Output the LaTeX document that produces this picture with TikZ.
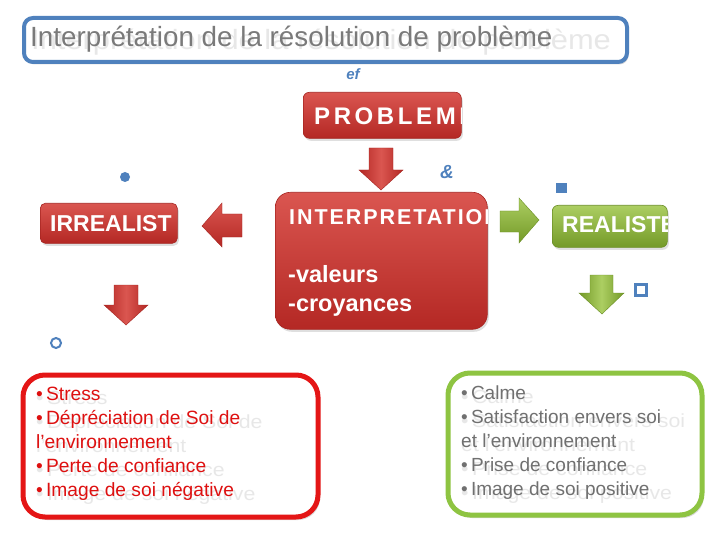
\documentclass[tikz,border=0pt]{standalone}
\usepackage{fontspec}
\usepackage{graphicx}
\setmainfont{Liberation Sans}
\usetikzlibrary{shadows}
\definecolor{blueB}{RGB}{79,129,189}
\definecolor{redT}{RGB}{218,86,80}
\definecolor{redB}{RGB}{180,40,36}
\definecolor{redE}{RGB}{165,36,32}
\definecolor{greenT}{RGB}{172,206,98}
\definecolor{greenB}{RGB}{116,154,40}
\definecolor{greenE}{RGB}{106,142,36}
\definecolor{lred}{RGB}{228,22,22}
\definecolor{lgreen}{RGB}{142,196,66}
\definecolor{titlegray}{RGB}{122,122,122}
\definecolor{ghostgray}{RGB}{150,150,150}
\definecolor{txtred}{RGB}{222,16,16}
\definecolor{txtgray}{RGB}{112,112,112}
\tikzset{
  shad/.style={drop shadow={opacity=0.25,shadow xshift=1.5pt,shadow yshift=-2.5pt}},
  redbox/.style={draw=redE, line width=0.6pt, top color=redT, bottom color=redB, anchor=north west, inner sep=0pt, shad},
  greenbox/.style={draw=greenE, line width=0.6pt, top color=greenT, bottom color=greenB, anchor=north west, inner sep=0pt, shad},
  redarrowv/.style={draw=redE, line width=0.4pt, left color=redB, right color=redB, middle color=redT},
  redarrowh/.style={draw=redE, line width=0.4pt, top color=redT, bottom color=redB},
  greenarrowv/.style={draw=greenE, line width=0.4pt, left color=greenB, right color=greenB, middle color=greenT},
  greenarrowh/.style={draw=greenE, line width=0.4pt, top color=greenT, bottom color=greenB},
  wtxt/.style={anchor=base west, inner sep=0pt, text=white},
  ghost/.style={inner sep=0pt, text=ghostgray, opacity=0.22},
  listbox/.style={fill=white, anchor=north west, line width=5pt, rounded corners=22pt, inner sep=0pt, drop shadow={opacity=0.3,shadow xshift=2pt,shadow yshift=-3pt}},
  glyph/.style={text=blueB, inner sep=0pt}
}
\begin{document}
\begin{tikzpicture}[x=1pt,y=-1pt]
\useasboundingbox (0,0) rectangle (720,540);

% title
\node[draw=blueB, line width=4pt, fill=white, rounded corners=9pt, minimum width=603pt, minimum height=44pt, anchor=north west, inner sep=0pt, drop shadow={opacity=0.3,shadow xshift=1.5pt,shadow yshift=-2.5pt}] (titlebox) at (22,16) {};
\node[ghost, anchor=base west, font=\fontsize{27.8}{30}\selectfont] (titleghost) at (31,50) {\scalebox{1.11}[1]{Interprétation de la résolution de problème}};
\node[anchor=base west, inner sep=0pt, text=titlegray, font=\fontsize{27.8}{30}\selectfont] (title) at (30,47) {Interprétation de la résolution de problème};

% glyphs
\node[glyph, font=\bfseries\itshape\fontsize{15}{15}\selectfont] (g1) at (353,74) {ef};
\node[glyph, font=\bfseries\itshape\fontsize{19}{19}\selectfont] (g2) at (447,172) {\&};
\node[circle, fill=blueB, minimum size=10pt, inner sep=0pt] (dot) at (125,177) {};
\node[fill=blueB, minimum size=10.5pt, inner sep=0pt] (sq) at (561.5,188) {};
\node[draw=blueB, line width=2.2pt, minimum size=11pt, inner sep=0pt] (hsq) at (641,290) {};
\node[circle, draw=blueB, line width=2pt, minimum size=10pt, inner sep=0pt] (hci) at (56,343) {};

% PROBLEME
\node[redbox, rounded corners=6pt, minimum width=158pt, minimum height=46pt] (probbox) at (303,92) {};
\begin{scope}
\clip[rounded corners=6pt] (probbox.north west) rectangle (probbox.south east);
\node[wtxt, font=\bfseries\fontsize{24}{24}\selectfont\addfontfeatures{LetterSpace=15}] (prob) at (314,125) {PROBLEME};
\end{scope}

% down arrow red (center)
\draw[redarrowv] (369,148) -- (393,148) -- (393,170) -- (403,170) -- (381,190) -- (359,170) -- (369,170) -- cycle;

% INTERPRETATION
\node[redbox, rounded corners=15pt, minimum width=212pt, minimum height=137pt] (intbox) at (275,192) {};
\begin{scope}
\clip[rounded corners=15pt] (intbox.north west) rectangle (intbox.south east);
\node[wtxt, font=\bfseries\fontsize{21.5}{22}\selectfont\addfontfeatures{LetterSpace=9}] (inttxt) at (289,225) {INTERPRETATION};
\end{scope}
\node[wtxt, font=\bfseries\fontsize{23.5}{24}\selectfont] (val) at (288,282) {-valeurs};
\node[wtxt, font=\bfseries\fontsize{23.5}{24}\selectfont] (croy) at (288,311) {-croyances};

% left arrow red
\draw[redarrowh] (242,214) -- (242,237) -- (222,237) -- (222,247) -- (202,226) -- (222,203) -- (222,214) -- cycle;

% IRREALIST
\node[redbox, rounded corners=5pt, minimum width=137pt, minimum height=40pt] (irrbox) at (40,203) {};
\begin{scope}
\clip[rounded corners=5pt] (irrbox.north west) rectangle (irrbox.south east);
\node[wtxt, font=\bfseries\fontsize{23}{23}\selectfont] (irr) at (50,232) {IRREALIST};
\end{scope}
\draw[redarrowv] (114,285) -- (138,285) -- (138,305) -- (148,305) -- (126,325) -- (104,305) -- (114,305) -- cycle;

% right arrow green
\draw[greenarrowh] (500,211) -- (519,211) -- (519,198) -- (539,220) -- (519,243) -- (519,232) -- (500,232) -- cycle;

% REALISTE
\node[greenbox, rounded corners=6pt, minimum width=115pt, minimum height=42pt] (realbox) at (552,205) {};
\begin{scope}
\clip[rounded corners=6pt] (realbox.north west) rectangle (realbox.south east);
\node[wtxt, font=\bfseries\fontsize{23}{23}\selectfont] (real) at (562,233) {REALISTE};
\end{scope}
\draw[greenarrowv] (590,275) -- (613,275) -- (613,293) -- (624,293) -- (602,314) -- (579,293) -- (590,293) -- cycle;

% red list box
\node[listbox, draw=lred, minimum width=295pt, minimum height=142pt] (redlist) at (20.5,372.5) {};
\node[ghost, anchor=north west, font=\fontsize{19}{24}\selectfont] (redghost) at (36,387) {\scalebox{1.12}[1]{\begin{tabular}{@{}l@{}}•\thinspace Stress\\•\thinspace Dépréciation de Soi de\\l’environnement\\•\thinspace Perte de confiance\\•\thinspace Image de soi négative\end{tabular}}};
\node[anchor=north west, inner sep=0pt, text=txtred, font=\fontsize{19.2}{24}\selectfont] (redtxt) at (36,383) {\begin{tabular}{@{}l@{}}•\thinspace Stress\\•\thinspace Dépréciation de Soi de\\l’environnement\\•\thinspace Perte de confiance\\•\thinspace Image de soi négative\end{tabular}};

% green list box
\node[listbox, draw=lgreen, minimum width=254pt, minimum height=142pt] (greenlist) at (445.5,370.5) {};
\node[ghost, anchor=north west, font=\fontsize{19}{24}\selectfont] (greenghost) at (461,386) {\scalebox{1.12}[1]{\begin{tabular}{@{}l@{}}•\thinspace Calme\\•\thinspace Satisfaction envers soi\\et l’environnement\\•\thinspace Prise de confiance\\•\thinspace Image de soi positive\end{tabular}}};
\node[anchor=north west, inner sep=0pt, text=txtgray, font=\fontsize{19}{24}\selectfont] (greentxt) at (461,382) {\begin{tabular}{@{}l@{}}•\thinspace Calme\\•\thinspace Satisfaction envers soi\\et l’environnement\\•\thinspace Prise de confiance\\•\thinspace Image de soi positive\end{tabular}};
\end{tikzpicture}
\end{document}
